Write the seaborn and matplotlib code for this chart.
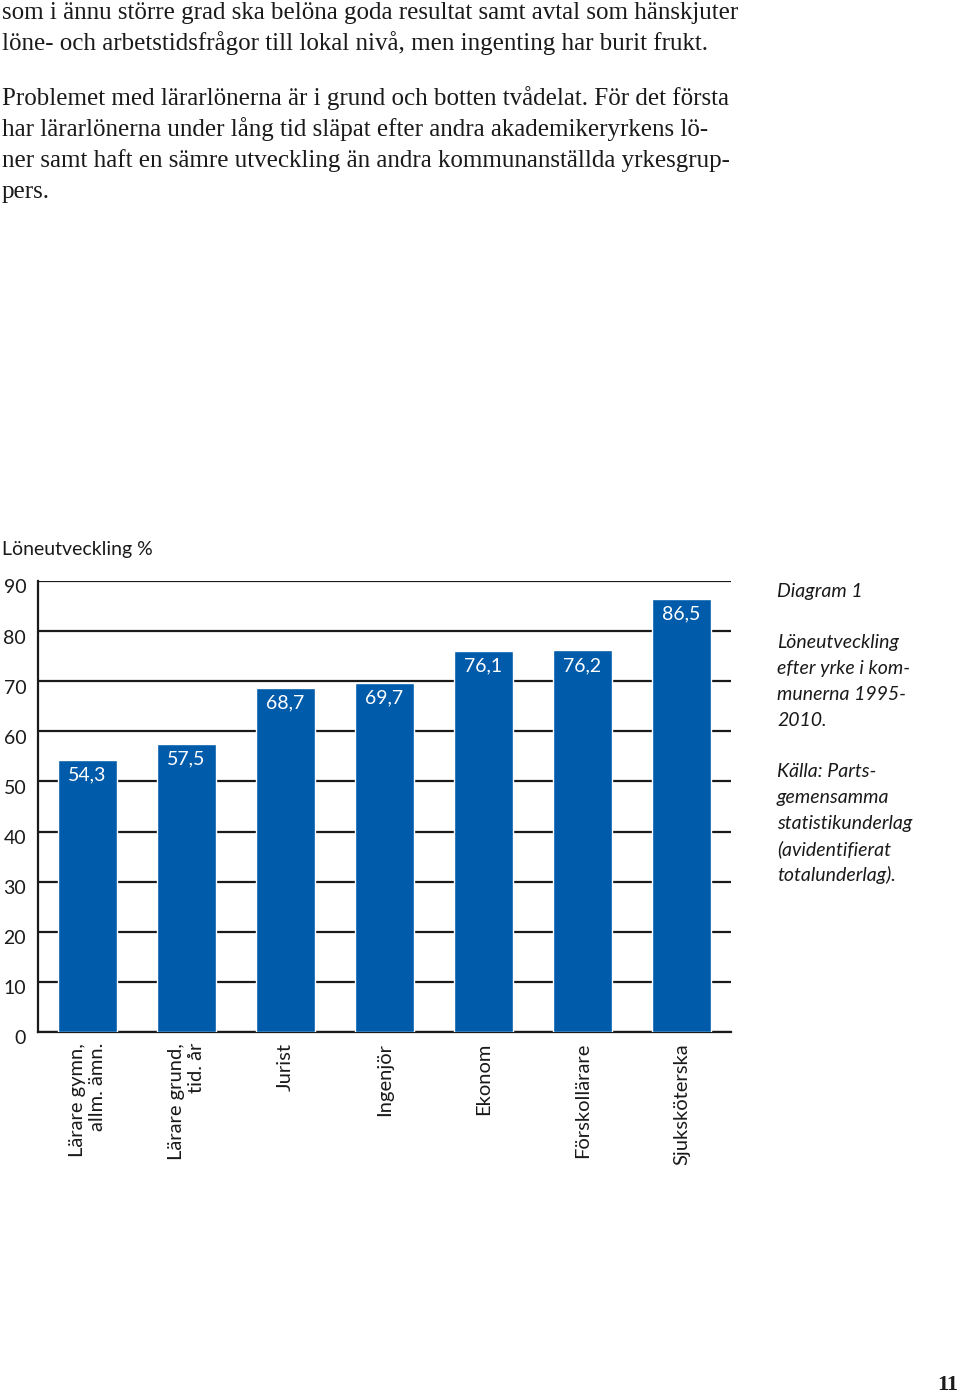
"""
Löneutveckling efter yrke i kommunerna 1995-2010 (page 11 recreation).
"""

import numpy as np
import matplotlib
matplotlib.use("Agg")
import matplotlib.pyplot as plt
import matplotlib.transforms as mtransforms
import seaborn as sns

# ---------------------------------------------------------------------------
# Data
# ---------------------------------------------------------------------------
JOBS   = ["Lärare gymn,\nallm. ämn.", "Lärare grund,\ntid. år", "Jurist",
          "Ingenjör", "Ekonom", "Förskollärare", "Sjuksköterska"]
VALUES = [54.3, 57.5, 68.7, 69.7, 76.1, 76.2, 86.5]
YTICKS = [0, 10, 20, 30, 40, 50, 60, 70, 80, 90]

BODY_LINES = [
    "som i ännu större grad ska belöna goda resultat samt avtal som hänskjuter",
    "löne- och arbetstidsfrågor till lokal nivå, men ingenting har burit frukt.",
    "",
    "Problemet med lärarlönerna är i grund och botten tvådelat. För det första",
    "har lärarlönerna under lång tid släpat efter andra akademikeryrkens lö-",
    "ner samt haft en sämre utveckling än andra kommunanställda yrkesgrup-",
    "pers.",
]
NOTE_LINES = [
    "Diagram 1", "",
    "Löneutveckling", "efter yrke i kom-", "munerna 1995-", "2010.", "",
    "Källa: Parts-", "gemensamma", "statistikunderlag", "(avidentifierat",
    "totalunderlag).",
]

BLUE  = "#005BAA"
INK   = "#1a1a1a"
SANS  = "Lato"
SERIF = "Liberation Serif"
W, H  = 960, 1393

# ---------------------------------------------------------------------------
# Figure
# ---------------------------------------------------------------------------
sns.set_style("white")
plt.rcParams["font.family"] = [SANS, "DejaVu Sans"]

fig = plt.figure(figsize=(W / 100, H / 100), dpi=100)
ax = fig.add_axes([38 / W, 361 / H, 693 / W, 451 / H])

sns.barplot(x=JOBS, y=VALUES, color=BLUE, saturation=1, width=0.59, ax=ax, zorder=3)

ax.set_ylim(0, 90)
ax.set_xlim(-0.5, len(JOBS) - 0.5)
ax.set_yticks(YTICKS)
ax.set_yticklabels([])
ax.yaxis.grid(True, color=INK, lw=1.6)
ax.xaxis.grid(False)
ax.set_axisbelow(True)

for side in ["top", "right"]:
    ax.spines[side].set_visible(False)
for side in ["left", "bottom"]:
    ax.spines[side].set_color(INK)
    ax.spines[side].set_linewidth(1.6)

# category boundaries get the small downward ticks
ax.set_xticks(np.arange(-0.5, len(JOBS)), minor=True)
ax.tick_params(axis="x", which="minor", length=7, width=1.6, color=INK, direction="out")
ax.tick_params(axis="x", which="major", length=0, pad=8)
ax.tick_params(axis="y", length=0)
for lbl in ax.get_xticklabels():
    lbl.set_rotation(90)
    lbl.set_va("top")
    lbl.set_ha("center")
    lbl.set_multialignment("right")
    lbl.set_fontsize(14.5)
    lbl.set_color(INK)
ax.set_xlabel("")
ax.set_ylabel("")

# y labels sit a little below their gridline
shift = mtransforms.ScaledTranslation(0, -0.07, fig.dpi_scale_trans)
for t in YTICKS:
    ax.text(-0.017, t, str(t), transform=ax.get_yaxis_transform() + shift,
            ha="right", va="center", fontsize=14, color=INK)

# value labels inside the bar tops
for i, v in enumerate(VALUES):
    ax.annotate(f"{v:.1f}".replace(".", ","), (i, v), xytext=(0, -11),
                textcoords="offset points", ha="center", va="center",
                color="white", fontsize=14, zorder=4)

fig.text(2 / W, 1 - 549 / H, "Löneutveckling %", ha="left", va="center",
         fontsize=14, color=INK)

# side note
for i, line in enumerate(NOTE_LINES):
    if line:
        fig.text(777 / W, 1 - (591 + 25.8 * i) / H, line, ha="left", va="center",
                 fontsize=14, style="italic", color=INK)

# running body text above the chart
for i, line in enumerate(BODY_LINES):
    if line:
        y = 19 + 31.2 * i - (8 if i > 2 else 0)
        fig.text(2 / W, 1 - y / H, line, ha="left", va="baseline",
                 fontsize=18, family=SERIF, color=INK)

fig.text(958 / W, 1 - 1390 / H, "11", ha="right", va="baseline",
         fontsize=16, weight="bold", family=SERIF, color=INK)

fig.savefig("out.png", dpi=100)
